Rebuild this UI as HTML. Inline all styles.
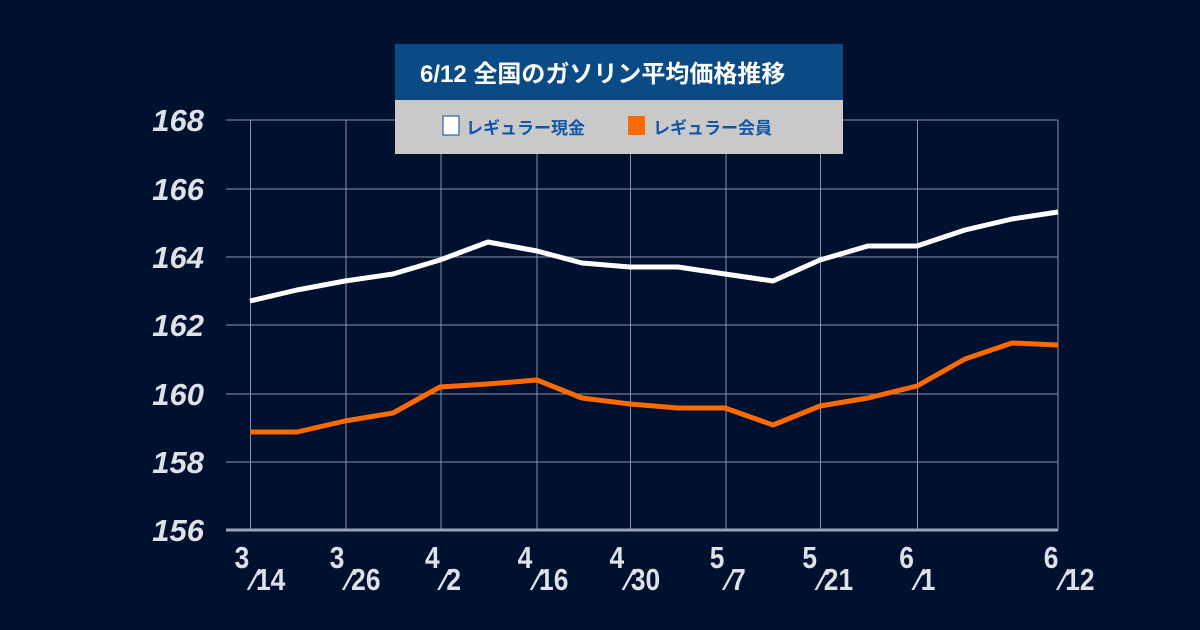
<!DOCTYPE html>
<html><head><meta charset="utf-8"><style>
body{margin:0;background:#00112f;}
svg{display:block}
.y{font:italic bold 31px "Liberation Sans",sans-serif;fill:#dde1e8;text-anchor:end}
.x{font:bold 31px "Liberation Sans",sans-serif;fill:#dde1e8}
.xs{font:bold 31px "Liberation Sans",sans-serif;fill:#dde1e8}
</style></head><body>
<svg width="1200" height="630" viewBox="0 0 1200 630">
<rect width="1200" height="630" fill="#00112f"/>
<g stroke="#8a93a6" stroke-width="1">
<line x1="226" y1="120" x2="1058" y2="120"/>
<line x1="226" y1="189" x2="1058" y2="189"/>
<line x1="226" y1="257" x2="1058" y2="257"/>
<line x1="226" y1="325" x2="1058" y2="325"/>
<line x1="226" y1="394" x2="1058" y2="394"/>
<line x1="226" y1="462" x2="1058" y2="462"/>
<line x1="250.5" y1="120" x2="250.5" y2="530"/>
<line x1="346" y1="120" x2="346" y2="530"/>
<line x1="441" y1="120" x2="441" y2="530"/>
<line x1="537" y1="120" x2="537" y2="530"/>
<line x1="630.5" y1="120" x2="630.5" y2="530"/>
<line x1="726" y1="120" x2="726" y2="530"/>
<line x1="820.5" y1="120" x2="820.5" y2="530"/>
<line x1="917.5" y1="120" x2="917.5" y2="530"/>
<line x1="1058" y1="120" x2="1058" y2="530"/>
</g>
<line x1="226" y1="530" x2="1058" y2="530" stroke="#9aa3b3" stroke-width="3"/>
<g class="y">
<text x="204" y="131">168</text><text x="204" y="200">166</text><text x="204" y="268">164</text>
<text x="204" y="336">162</text><text x="204" y="405">160</text><text x="204" y="473">158</text><text x="204" y="541">156</text>
</g>
<polyline fill="none" stroke="#fff" stroke-width="5" stroke-linejoin="round" points="250,301 297,290 345,281 393,274 440,260 488,242 537,251 582,263 630,267 678,267 725,274 773,281 820,260 868,246 917,246 965,230 1012,219 1058,212"/>
<polyline fill="none" stroke="#ff6a00" stroke-width="5" stroke-linejoin="round" points="250,432 297,432 345,421 393,413 440,387 488,384 537,380 582,398 630,404 678,408 725,408 773,425 820,406 868,398 917,386 965,359 1012,343 1058,345"/>
<g transform="scale(0.85,1)">
<text class="x" x="276" y="568">3</text><text class="xs" x="296" y="590">⁄14</text>
<text class="x" x="388" y="568">3</text><text class="xs" x="408" y="590">⁄26</text>
<text class="x" x="500" y="568">4</text><text class="xs" x="520" y="590">⁄2</text>
<text class="x" x="609" y="568">4</text><text class="xs" x="629" y="590">⁄16</text>
<text class="x" x="717" y="568">4</text><text class="xs" x="737" y="590">⁄30</text>
<text class="x" x="835" y="568">5</text><text class="xs" x="855" y="590">⁄7</text>
<text class="x" x="944" y="568">5</text><text class="xs" x="964" y="590">⁄21</text>
<text class="x" x="1058" y="568">6</text><text class="xs" x="1078" y="590">⁄1</text>
<text class="x" x="1228" y="568">6</text><text class="xs" x="1248" y="590">⁄12</text>
</g>
<rect x="395" y="44" width="448" height="56" fill="#0a4b86"/>
<rect x="395" y="100" width="448" height="54" fill="#c9c9c9"/>
<text x="420" y="82" fill="#fff" style="font:bold 24px 'Liberation Sans','Noto Sans CJK JP',sans-serif">6/12  全国のガソリン平均価格推移</text>
<rect x="443" y="116" width="16" height="19" fill="#fff" stroke="#0a4b86" stroke-width="1"/>
<text x="466" y="134" fill="#1456a3" style="font:bold 17px 'Liberation Sans','Noto Sans CJK JP',sans-serif">レギュラー現金</text>
<rect x="628" y="116" width="17" height="19" fill="#ff6a00"/>
<text x="653" y="134" fill="#1456a3" style="font:bold 17px 'Liberation Sans','Noto Sans CJK JP',sans-serif">レギュラー会員</text>
</svg>
</body></html>
